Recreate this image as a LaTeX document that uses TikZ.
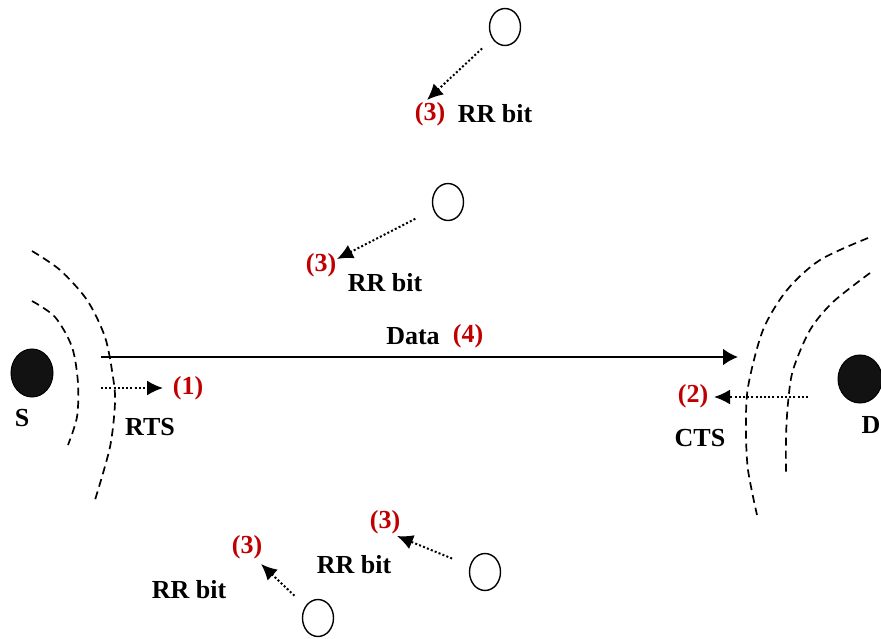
\documentclass[tikz,border=0pt]{standalone}
\usepackage{fontspec}
\setmainfont{Liberation Serif}
\usetikzlibrary{arrows.meta,shapes.geometric}
\definecolor{stepred}{RGB}{192,0,0}
\begin{document}
\begin{tikzpicture}[x=1pt,y=-1pt,
    every node/.style={inner sep=0pt,font=\bfseries\fontsize{26}{30}\selectfont},
    station/.style={ellipse,draw=black,fill=black!93,line width=1pt,minimum width=42pt,minimum height=48pt},
    peer/.style={ellipse,draw=black,line width=1.4pt,minimum width=31pt,minimum height=37pt},
    num/.style={text=stepred},
    wave/.style={dash pattern=on 8pt off 5pt,line width=1.7pt},
    signal/.style={dash pattern=on 2pt off 2.2pt,line width=2pt,-{Latex[length=16pt,width=15pt]}}]
    \clip (0,0) rectangle (881,639);
                % stations
                \node [station] (S) at (32,373) {};
                \node (Slabel) at (22,418) {S};
                \node [station,minimum width=44pt] (D) at (860,379) {};
                \node (Dlabel) at (871,425) {D};
                % waves
                \draw [wave] plot [smooth] coordinates {(32,251) (60,270) (87,300) (105,337) (113,377) (115,403) (110,447) (95,500)};
                \draw [wave] plot [smooth] coordinates {(32,301) (55,317) (72,347) (78,383) (77,417) (68,445)};
                \draw [wave] plot [smooth] coordinates {(868,238) (820,260) (787,290) (763,330) (748,387) (746,430) (748,470) (757,515)};
                \draw [wave] plot [smooth] coordinates {(870,273) (833,302) (810,330) (793,370) (788,403) (786,437) (786,475)};
                % data
                \coordinate (d0) at (101,357);
                \coordinate (d1) at (738,357);
                \draw [line width=2.4pt,-{Latex[length=15pt,width=17pt]}] (d0) -- (d1);
                \node (data) at (413,336) {Data};
                \node [num] (n4) at (468,336) {(4)};
                % rts / cts
                \coordinate (r0) at (101,388);
                \coordinate (r1) at (163,388);
                \draw [signal] (r0) -- (r1);
                \node [num] (n1) at (188,388) {(1)};
                \node (rts) at (150,427) {RTS};
                \coordinate (c0) at (808,397);
                \coordinate (c1) at (714,397);
                \draw [signal] (c0) -- (c1);
                \node [num] (n2) at (693,396) {(2)};
                \node (cts) at (700,438) {CTS};
                % neighbours
                \node [peer] (p1) at (505,27) {};
                \node [peer] (p2) at (448,202) {};
                \node [peer] (p3) at (485,572) {};
                \node [peer] (p4) at (318,618) {};
                \coordinate (t1) at (427,100);
                \coordinate (t2) at (337,259);
                \coordinate (t3) at (397,536);
                \coordinate (t4) at (261,564);
                \draw [signal,shorten <=14pt] (p1) -- (t1);
                \draw [signal,shorten <=20pt] (p2) -- (t2);
                \draw [signal,shorten <=19pt] (p3) -- (t3);
                \draw [signal,shorten <=15pt] (p4) -- (t4);
                \node [num] (k1) at (430,114) {(3)};
                \node (rr1) at (495,114) {RR bit};
                \node [num] (k2) at (321,265) {(3)};
                \node (rr2) at (385,283) {RR bit};
                \node [num] (k3) at (385,522) {(3)};
                \node (rr3) at (354,565) {RR bit};
                \node [num] (k4) at (247,547) {(3)};
                \node (rr4) at (189,590) {RR bit};
\end{tikzpicture}
\end{document}
